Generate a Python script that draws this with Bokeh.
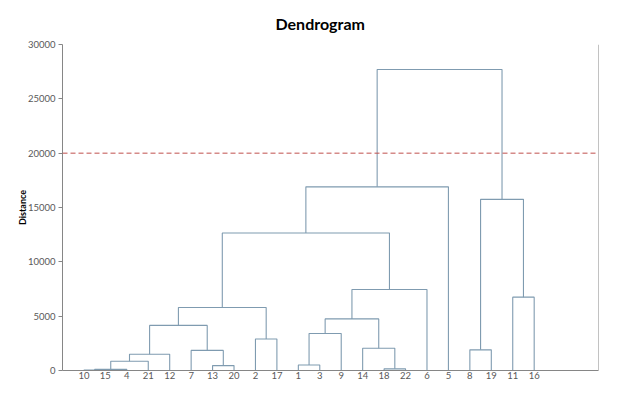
from bokeh.plotting import figure
from bokeh.models import Range1d, FixedTicker, Span
from bokeh.embed import file_html
from bokeh.resources import INLINE

# ---- data ----
leaf_labels = ["10", "15", "4", "21", "12", "7", "13", "20", "2", "17", "1",
               "3", "9", "14", "18", "22", "6", "5", "8", "19", "11", "16"]
leaf_positions = list(range(1, 23))

# merges: names are leaf labels or "m<index>" for earlier merges
merge_left = ["10", "m0", "m1", "m2", "13", "7", "m3", "2", "m6", "1", "m9",
              "18", "14", "m10", "m13", "m8", "m15", "8", "11", "m17", "m16"]
merge_right = ["15", "4", "21", "12", "20", "m4", "m5", "17", "m7", "3", "9",
               "22", "m11", "m12", "6", "m14", "5", "19", "16", "m18", "m19"]
merge_height = [30, 100, 850, 1500, 450, 1850, 4150, 2900, 5800, 500, 3400,
                 150, 2050, 4750, 7450, 12650, 16900, 1900, 6750, 15750, 27700]

cut_height = 20000
x_max = 25
y_ticks = [0, 5000, 10000, 15000, 20000, 25000, 30000]

# ---- build dendrogram links ----
pos = {lab: x for lab, x in zip(leaf_labels, leaf_positions)}
hgt = {lab: 0 for lab in leaf_labels}
xs, ys = [], []
for i, (l, r, h) in enumerate(zip(merge_left, merge_right, merge_height)):
    xl, xr = pos[l], pos[r]
    xs.append([xl, xl, xr, xr])
    ys.append([hgt[l], h, h, hgt[r]])
    pos[f"m{i}"] = (xl + xr) / 2
    hgt[f"m{i}"] = h

FONT = "Lato"
TXT = "#595959"
AX = "#868686"

p = figure(width=624, height=381, x_range=Range1d(0, x_max), y_range=Range1d(0, 30000),
           output_backend="svg", toolbar_location=None,
           min_border_left=62, min_border_right=26, min_border_top=44, min_border_bottom=10)
p.outline_line_color = None
p.xgrid.visible = False
p.ygrid.visible = False
p.background_fill_color = "white"
p.border_fill_color = "white"

p.title.text = "Dendrogram"
p.title.align = "left"
p.title.offset = 213
p.title.standoff = 20
p.title.vertical_align = "top"
p.title.text_font = FONT
p.title.text_font_size = "16px"
p.title.text_font_style = "bold"
p.title.text_color = "#000000"

p.multi_line(xs, ys, line_color="#7f9bb0", line_width=1.1)

p.add_layout(Span(location=cut_height, dimension="width", line_color="#c0504d",
                  line_dash="5 3", line_width=1))
# right-hand vertical axis line
p.add_layout(Span(location=x_max, dimension="height", line_color=AX, line_width=1))

# x axis
xa = p.xaxis[0]
xa.ticker = FixedTicker(ticks=leaf_positions)
xa.major_label_overrides = {x: lab for x, lab in zip(leaf_positions, leaf_labels)}
xa.major_tick_out = 0
xa.major_tick_in = 0
xa.minor_tick_out = 0
xa.minor_tick_in = 0
xa.axis_line_color = AX
xa.major_label_text_font = FONT
xa.major_label_text_font_size = "9.5px"
xa.major_label_text_color = TXT
xa.major_label_standoff = 1

# y axis
ya = p.yaxis[0]
ya.ticker = FixedTicker(ticks=y_ticks)
ya.minor_tick_out = 0
ya.minor_tick_in = 0
ya.major_tick_out = 4
ya.major_tick_in = 0
ya.major_tick_line_color = AX
ya.axis_line_color = AX
ya.major_label_text_font = FONT
ya.major_label_text_font_size = "9.5px"
ya.major_label_text_color = TXT
ya.major_label_standoff = 3
ya.axis_label = "Distance"
ya.axis_label_text_font = FONT
ya.axis_label_text_font_size = "9px"
ya.axis_label_text_font_style = "bold"
ya.axis_label_text_color = "#000000"
ya.axis_label_standoff = -3

open("out.html", "w").write(file_html(p, INLINE))
